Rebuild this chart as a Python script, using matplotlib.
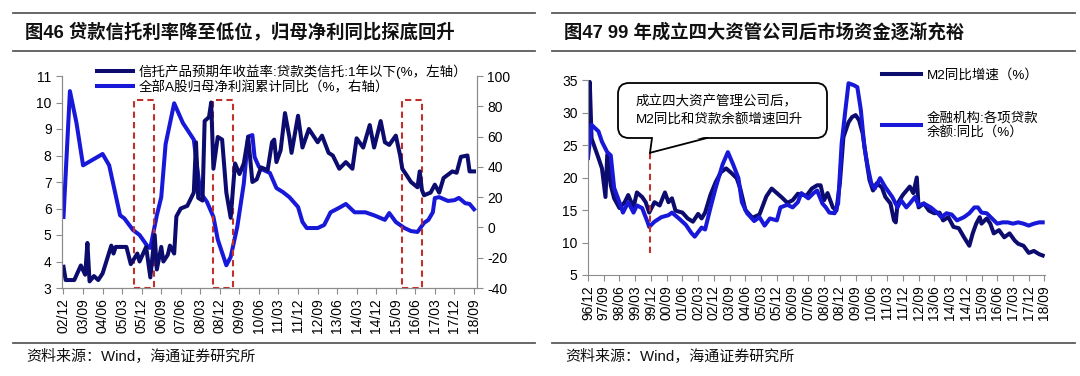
import matplotlib
matplotlib.use("Agg")
import matplotlib.pyplot as plt
import matplotlib.dates as mdates
from matplotlib.patches import Rectangle, FancyBboxPatch, Polygon
from matplotlib.lines import Line2D
import pandas as pd

plt.rcParams["font.family"] = ["Liberation Sans", "Noto Sans CJK SC"]
plt.rcParams["axes.unicode_minus"] = False

NAVY = "#0C0C6E"
BLUE = "#1818D8"
RED = "#C0302D"
GRID_GRAY = "#8C8C8C"
LW = 2.9

# ---- figure 46: trust yield (left axis) vs A-share profit yoy (right axis)
trust_dates = [
    "2002-12", "2003-01", "2003-05", "2003-08", "2003-10", "2003-11", "2003-12",
    "2004-02", "2004-04", "2004-06", "2004-10", "2004-11", "2004-12", "2005-05",
    "2005-07", "2005-10", "2005-11", "2006-02", "2006-04", "2006-06", "2006-07",
    "2006-09", "2006-10", "2006-12", "2007-01", "2007-03", "2007-04", "2007-06",
    "2007-09", "2007-12", "2008-01", "2008-02", "2008-04", "2008-05", "2008-07",
    "2008-08", "2008-09", "2008-11", "2009-01", "2009-03", "2009-05", "2009-06",
    "2009-07", "2009-09", "2009-11", "2010-01", "2010-03", "2010-05", "2010-07",
    "2010-10", "2010-12", "2011-01", "2011-02", "2011-04", "2011-06", "2011-08",
    "2011-09", "2011-12", "2012-02", "2012-05", "2012-09", "2012-11", "2013-02",
    "2013-04", "2013-07", "2013-10", "2014-01", "2014-03", "2014-06", "2014-09",
    "2014-11", "2015-02", "2015-04", "2015-06", "2015-09", "2015-11", "2015-12",
    "2016-02", "2016-04", "2016-07", "2016-08", "2016-09", "2016-10", "2017-01",
    "2017-03", "2017-05", "2017-07", "2017-11", "2018-01", "2018-03", "2018-06",
    "2018-07", "2018-09",
]
trust_rate = [
    3.8, 3.3, 3.3, 3.85, 3.5, 4.7, 3.25,
    3.45, 3.3, 3.55, 4.6, 4.3, 4.55, 4.55,
    3.9, 4.3, 4.0, 4.55, 3.4, 5.0, 3.7,
    4.55, 4.0, 4.25, 4.6, 4.3, 5.7, 6.0,
    6.1, 6.6, 8.5, 6.4, 6.3, 9.3, 9.45,
    10.0, 7.5, 8.7, 8.6, 6.6, 5.65, 6.7,
    7.7, 7.3, 7.7, 8.7, 7.0, 7.1, 7.55,
    7.45, 8.5, 8.6, 7.75, 8.2, 9.6, 8.7,
    8.1, 9.5, 8.3, 9.0, 8.5, 8.75, 8.1,
    8.0, 7.5, 7.75, 7.5, 8.65, 8.3, 9.15,
    8.3, 9.3, 8.5, 8.4, 8.75, 8.0, 7.5,
    7.25, 7.0, 6.8, 7.4, 6.7, 6.5, 6.6,
    6.9, 6.6, 7.15, 7.4, 7.35, 7.95, 8.0,
    7.4, 7.4,
]

profit_dates = [
    "2002-12", "2003-03", "2003-06", "2003-09", "2004-06", "2004-09", "2005-02",
    "2005-04", "2005-08", "2005-11", "2006-03", "2006-04", "2006-07", "2006-09",
    "2006-11", "2007-03", "2007-07", "2007-12", "2008-03", "2008-06", "2008-09",
    "2008-11", "2009-03", "2009-05", "2009-08", "2009-11", "2010-01", "2010-03",
    "2010-04", "2010-06", "2010-08", "2010-11", "2011-02", "2011-05", "2011-08",
    "2011-12", "2012-02", "2012-04", "2012-09", "2012-12", "2013-03", "2013-07",
    "2013-10", "2014-02", "2014-07", "2014-11", "2015-04", "2015-06", "2015-09",
    "2016-01", "2016-04", "2016-07", "2016-10", "2016-12", "2017-02", "2017-03",
    "2017-05", "2017-09", "2017-12", "2018-02", "2018-05", "2018-07", "2018-09",
]
profit_yoy = [
    6.9, 90, 69, 41, 48.5, 41, 8,
    6, -1.7, -5, -13, -13.5, 8, 20,
    55, 82, 69, 58, 23, 17, 7,
    -8, -25, -19.5, 0.3, 29, 60, 61,
    46.5, 40, 38, 36, 26, 23.4, 20,
    13.5, 3.6, -0.4, -0.4, 1.6, 10, 13,
    15.5, 10, 10, 8, 5, 9.5, 3.6,
    -0.4, -2.4, -3, 3, 5, 10, 19.4,
    20, 17.5, 18, 19.5, 16, 15.5, 12,
]

box_starts = ["2005-08-15", "2008-08-25", "2015-11-25"]
box_ends = ["2006-05-20", "2009-06-01", "2016-09-01"]
box_top = 10.1

# ---- figure 47: M2 yoy and loan balance yoy
m2_dates = [
    "1996-12", "1997-01", "1997-02", "1997-06", "1997-08", "1997-10", "1997-11",
    "1998-01", "1998-03", "1998-06", "1998-09", "1998-11", "1999-02", "1999-04",
    "1999-07", "1999-09", "1999-11", "2000-02", "2000-05", "2000-08", "2000-10",
    "2000-12", "2001-02", "2001-06", "2001-09", "2001-12", "2002-03", "2002-05",
    "2002-07", "2002-10", "2003-01", "2003-04", "2003-07", "2003-10", "2004-01",
    "2004-03", "2004-06", "2004-10", "2005-02", "2005-06", "2005-09", "2005-12",
    "2006-03", "2006-06", "2006-09", "2006-12", "2007-05", "2007-08", "2007-11",
    "2008-01", "2008-03", "2008-05", "2008-08", "2008-10", "2008-12", "2009-02",
    "2009-05", "2009-07", "2009-09", "2009-11", "2010-01", "2010-03", "2010-05",
    "2010-07", "2010-09", "2010-12", "2011-02", "2011-05", "2011-07", "2011-08",
    "2011-09", "2011-12", "2012-04", "2012-06", "2012-08", "2012-09", "2012-12",
    "2013-03", "2013-06", "2013-09", "2013-11", "2014-02", "2014-05", "2014-08",
    "2014-11", "2015-02", "2015-04", "2015-06", "2015-08", "2015-09", "2015-12",
    "2016-02", "2016-04", "2016-07", "2016-10", "2017-01", "2017-04", "2017-06",
    "2017-09", "2017-12", "2018-03", "2018-06", "2018-08",
]
m2_yoy = [
    23.4, 34.7, 26.0, 23.0, 21.4, 17.0, 23.5,
    18.8, 16.8, 15.3, 16.2, 17.3, 15.4, 17.7,
    17.0, 16.2, 14.6, 16.2, 15.7, 17.7, 16.2,
    16.8, 14.9, 14.6, 13.7, 13.2, 14.4, 13.7,
    14.6, 17.3, 19.3, 20.8, 21.4, 20.7, 19.9,
    18.4, 15.0, 13.8, 14.3, 17.1, 18.3, 17.6,
    16.9, 16.1, 16.5, 17.5, 17.2, 18.3, 18.8,
    18.8, 16.5, 17.6, 15.4, 14.9, 19.1, 26.2,
    28.5, 29.3, 29.6, 28.8, 26.8, 23.1, 19.6,
    18.0, 19.1, 18.5, 17.0, 16.0, 13.4, 13.1,
    16.0, 17.3, 18.6, 17.6, 20.0, 15.4, 16.0,
    14.9, 14.5, 14.6, 13.4, 13.9, 12.4, 12.2,
    10.8, 9.5, 11.4, 12.9, 13.9, 12.9, 13.7,
    12.9, 11.4, 11.9, 10.8, 11.4, 10.3, 9.8,
    9.5, 8.4, 8.7, 8.2, 8.0,
]

loan_dates = [
    "1996-12", "1997-02", "1997-06", "1997-08", "1997-11", "1998-01", "1998-03",
    "1998-06", "1998-08", "1998-11", "1999-02", "1999-04", "1999-07", "1999-10",
    "1999-11", "2000-02", "2000-06", "2000-10", "2000-12", "2001-04", "2001-08",
    "2001-11", "2002-01", "2002-05", "2002-07", "2002-10", "2003-01", "2003-05",
    "2003-08", "2003-11", "2004-02", "2004-04", "2004-07", "2004-11", "2005-02",
    "2005-05", "2005-08", "2005-12", "2006-02", "2006-06", "2006-09", "2006-12",
    "2007-02", "2007-06", "2007-09", "2007-11", "2008-02", "2008-04", "2008-06",
    "2008-09", "2008-11", "2009-01", "2009-03", "2009-05", "2009-08", "2009-10",
    "2009-12", "2010-02", "2010-04", "2010-06", "2010-08", "2010-11", "2011-02",
    "2011-06", "2011-09", "2011-11", "2012-02", "2012-04", "2012-07", "2012-09",
    "2012-12", "2013-04", "2013-08", "2013-10", "2014-01", "2014-04", "2014-07",
    "2014-11", "2015-02", "2015-05", "2015-07", "2015-09", "2015-12", "2016-03",
    "2016-06", "2016-09", "2016-12", "2017-03", "2017-06", "2017-09", "2017-12",
    "2018-03", "2018-06", "2018-08",
]
loan_yoy = [
    23.0, 28.1, 27.1, 25.5, 23.9, 23.4, 18.4,
    16.2, 14.6, 16.2, 14.6, 15.7, 15.3, 13.2,
    12.4, 13.2, 13.9, 14.2, 14.6, 13.7, 12.7,
    11.5, 10.9, 12.3, 12.0, 15.3, 18.4, 22.0,
    23.9, 22.0, 19.9, 16.2, 14.5, 13.3, 13.9,
    12.6, 13.7, 13.4, 15.4, 15.8, 15.4, 16.2,
    17.6, 16.8, 17.6, 18.0, 16.0, 15.4, 14.6,
    14.5, 16.0, 25.2, 29.9, 34.5, 34.2, 33.9,
    30.4, 24.7, 21.6, 19.1, 18.3, 19.9, 18.5,
    17.0, 15.4, 16.5, 15.4, 16.0, 17.0, 15.7,
    16.0, 15.4, 14.5, 13.9, 14.5, 14.3, 13.4,
    13.9, 14.5, 15.4, 15.4, 14.6, 14.5, 13.7,
    12.9, 13.1, 13.1, 12.9, 13.1, 12.9, 12.6,
    12.9, 13.1, 13.1,
]

amc_date = "1999-11-15"
amc_low, amc_high = 8.4, 23.8

W, H = 1080, 376


def px_x(x):
    return x / W


def px_y(y):
    return 1 - y / H


def style_axis(ax, fontsize=10):
    for side in ("left", "bottom", "right"):
        ax.spines[side].set_color(GRID_GRAY)
        ax.spines[side].set_linewidth(0.8)
    ax.spines["top"].set_visible(False)
    ax.tick_params(axis="both", colors=GRID_GRAY, labelcolor="black",
                   length=4, width=0.8, labelsize=fontsize, direction="out")


def date_ticks(ax, start, end):
    ticks = pd.date_range(start, end, freq="9MS")
    ax.set_xticks(ticks)
    ax.set_xticklabels([t.strftime("%y/%m") for t in ticks], rotation=90,
                       va="top", ha="center")


fig = plt.figure(figsize=(W / 100, H / 100), dpi=100)

# header and footer rules, titles and sources
for x0, x1, title in ((13, 535, "图46 贷款信托利率降至低位，归母净利同比探底回升"),
                      (552, 1075, "图47 99 年成立四大资管公司后市场资金逐渐充裕")):
    for yy in (13, 51, 343):
        fig.add_artist(Line2D([px_x(x0), px_x(x1)], [px_y(yy), px_y(yy)],
                              color="#5A5A5A", lw=1.3))
    fig.text(px_x(x0 + 12), px_y(32), title, fontsize=13.2, fontweight="bold",
             va="center", ha="left", color="#111111")
    fig.text(px_x(x0 + 13), px_y(357), "资料来源：Wind，海通证券研究所",
             fontsize=10.8, va="center", ha="left", color="#111111")

# ---- left chart
ax = fig.add_axes([px_x(62), px_y(288), (477 - 62) / W, (288 - 76) / H])
ax2 = ax.twinx()
t_dates = pd.to_datetime(trust_dates)
p_dates = pd.to_datetime(profit_dates)
l1, = ax.plot(t_dates, trust_rate, color=NAVY, lw=LW, solid_joinstyle="round")
l2, = ax2.plot(p_dates, profit_yoy, color=BLUE, lw=LW, solid_joinstyle="round")
ax.set_ylim(3, 11)
ax.set_yticks(range(3, 12))
ax2.set_ylim(-40, 100)
ax2.set_yticks(range(-40, 101, 20))
ax.set_xlim(pd.Timestamp("2002-11-10"), pd.Timestamp("2018-10-13"))
date_ticks(ax, "2002-12-01", "2018-09-01")
style_axis(ax)
style_axis(ax2)

for s, e in zip(box_starts, box_ends):
    x0 = mdates.date2num(pd.Timestamp(s))
    x1 = mdates.date2num(pd.Timestamp(e))
    ax2.add_patch(Rectangle((x0, -40), x1 - x0,
                            (box_top - 3) / 8 * 140, fill=False,
                            ec=RED, ls=(0, (3, 2)), lw=1.5, zorder=5, clip_on=False))

ax.legend([l1, l2],
          ["信托产品预期年收益率:贷款类信托:1年以下(%，左轴）",
           "全部A股归母净利润累计同比（%，右轴）"],
          loc="upper left", bbox_to_anchor=((97 - 62) / 415, (288 - 64) / 212),
          frameon=False, fontsize=9.7, handlelength=2.7, handletextpad=0.4,
          labelspacing=0.15, borderpad=0, borderaxespad=0)
ax.set_zorder(ax2.get_zorder() + 1)
ax.patch.set_visible(False)

# ---- right chart
axr = fig.add_axes([px_x(588), px_y(275), (1045 - 588) / W, (275 - 80) / H])
r1, = axr.plot(pd.to_datetime(m2_dates), m2_yoy, color=NAVY, lw=LW,
               solid_joinstyle="round")
r2, = axr.plot(pd.to_datetime(loan_dates), loan_yoy, color=BLUE, lw=LW,
               solid_joinstyle="round")
axr.set_ylim(5, 35)
axr.set_yticks(range(5, 36, 5))
xl0, xl1 = pd.Timestamp("1996-12-01"), pd.Timestamp("2018-09-10")
axr.set_xlim(xl0, xl1)
date_ticks(axr, "1996-12-01", "2018-09-01")
style_axis(axr)
axr.spines["right"].set_visible(False)

axr.plot([pd.Timestamp(amc_date)] * 2, [amc_low, amc_high], color=RED,
         ls=(0, (3, 2)), lw=1.5, zorder=4)

# callout box with a tail pointing to the AMC date
bx0, bx1 = 30 / 457, 239 / 457
by0, by1 = (275 - 138) / 195, (275 - 83) / 195
axr.add_patch(FancyBboxPatch((bx0, by0), bx1 - bx0, by1 - by0,
                             boxstyle="round,pad=0,rounding_size=0.024",
                             mutation_aspect=457 / 195, transform=axr.transAxes,
                             fc="white", ec="black", lw=1.3, zorder=6, clip_on=False))
tip_x = (mdates.date2num(pd.Timestamp(amc_date)) - mdates.date2num(xl0)) / (
    mdates.date2num(xl1) - mdates.date2num(xl0))
tip_y = (amc_high - 5) / 30
base_a, base_b = (652 - 588) / 457, (707 - 588) / 457
axr.add_patch(Polygon([(base_a, by0 + 0.01), (base_b, by0 + 0.01), (tip_x, tip_y)],
                      closed=True, fc="white", ec="none", transform=axr.transAxes,
                      zorder=7, clip_on=False))
for bx in (base_a, base_b):
    axr.add_line(Line2D([bx, tip_x], [by0, tip_y], color="black", lw=1.3,
                        transform=axr.transAxes, zorder=8, clip_on=False))
axr.text((636 - 588) / 457, (275 - 102) / 195, "成立四大资产管理公司后，",
         transform=axr.transAxes, fontsize=9.7, va="center", ha="left", zorder=9)
axr.text((636 - 588) / 457, (275 - 120) / 195, "M2同比和贷款余额增速回升",
         transform=axr.transAxes, fontsize=9.7, va="center", ha="left", zorder=9)

axr.legend([r1, r2], ["M2同比增速（%）", "金融机构:各项贷款\n余额:同比（%）"],
           loc="upper left", bbox_to_anchor=((882 - 588) / 457, (275 - 69) / 195),
           frameon=False, fontsize=9.7, handlelength=2.9, handletextpad=0.4,
           labelspacing=2.2, borderpad=0, borderaxespad=0)

fig.savefig("out.png", dpi=100)
